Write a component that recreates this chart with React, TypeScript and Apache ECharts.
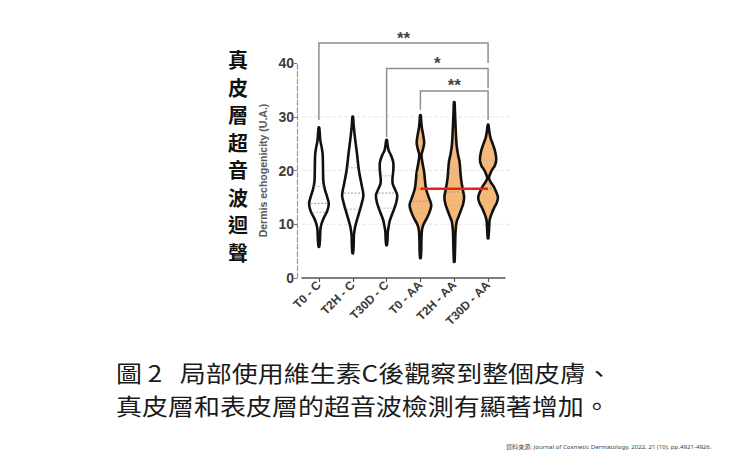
import React, { useEffect, useRef } from 'react';
import * as echarts from 'echarts';

const categories = ['T0 - C', 'T2H - C', 'T30D - C', 'T0 - AA', 'T2H - AA', 'T30D - AA'];
const filledGroup = [false, false, false, true, true, true];

// violin density profiles: [value, density]
const densityT0C = [[28, 0.3], [27, 0.8], [25.5, 1.5], [24.3, 2.8], [23, 3.8], [20, 4.2], [18, 4.5], [16.5, 6], [15, 8.5], [13.8, 10], [12.5, 8.5], [11, 4.5], [10, 2.5], [9, 1.5], [7, 1], [5.8, 0.3]];
const densityT2HC = [[30, 0.3], [28.5, 0.9], [26.2, 2.2], [23.3, 4.2], [20.1, 6.2], [17.5, 8.8], [15.4, 10.8], [13.8, 9], [12.1, 6.4], [10.5, 3.8], [9.5, 2.4], [8, 1.2], [6, 0.9], [4.6, 0.3]];
const densityT30DC = [[25.7, 0.3], [24.8, 1], [23.8, 2], [22.8, 4.5], [21.5, 6.8], [20, 6.8], [18.5, 6], [17.5, 6.2], [16.3, 9], [15.4, 10.8], [14.2, 10], [13, 8], [11.8, 5.5], [10.8, 3.5], [9.5, 2], [8.5, 1.2], [7, 0.9], [6.1, 0.3]];
const densityT0AA = [[30.3, 0.3], [29, 0.9], [27.9, 1.5], [26.4, 3], [25.1, 3.8], [23.9, 2.5], [22.9, 1.1], [21.5, 2], [19.7, 3.8], [16.7, 5.6], [15, 8.5], [13.6, 11], [12.4, 9.5], [11.3, 7], [9.9, 3], [8.8, 1.5], [7, 1], [5, 0.8], [3.7, 0.3]];
const densityT2HAA = [[32.7, 0.3], [31, 0.7], [28, 1.4], [24.7, 2.4], [23, 3.8], [21.6, 5.4], [18.6, 6.8], [16.5, 8.6], [15.1, 10], [13.9, 9.2], [13, 7.6], [11.6, 4.8], [10.4, 2.4], [8.6, 1.3], [6, 0.9], [3, 0.3]];
const densityT30DAA = [[28.5, 0.3], [27.3, 1.2], [26, 2.6], [24.8, 5], [23.5, 7.2], [22, 8.3], [20.9, 6.8], [20.1, 4], [19.2, 1.8], [18.6, 0.9], [17.9, 2.5], [16.9, 6], [15.1, 10], [14, 8.8], [13, 6], [11.8, 3.3], [10.8, 1.6], [9.5, 1.1], [7.4, 0.3]];
const profiles = [densityT0C, densityT2HC, densityT30DC, densityT0AA, densityT2HAA, densityT30DAA];
const DENSITY_MAX = 11;

const medians = [13.9, 15.8, 15.8, 14.3, 16.0, 16.6];
const quartile1 = [12.2, 12.8, 13.0, 12.0, 13.5, 14.2];
const quartile3 = [17.0, 20.5, 19.0, 19.5, 20.0, 21.8];

const gridValues = [10, 20, 30];

// significance brackets
const bracketFrom = [0, 2, 3];
const bracketTo = [5, 5, 5];
const bracketTop = [43.7, 39.0, 34.8];
const bracketLeftEnd = [29.4, 26.2, 31.3];
const bracketRightEnd = [40.0, 35.3, 29.4];
const bracketLabels = ['**', '*', '**'];

const redLineFrom = [3];
const redLineTo = [5];
const redLineValue = [16.6];

const sideTitle = '真皮層超音波迴聲';
const yAxisName = 'Dermis echogenicity (U.A.)';
const captionLine1 = '圖 2   局部使用維生素C後觀察到整個皮膚、';
const captionLine2 = '真皮層和表皮層的超音波檢測有顯著增加。';
const sourceText = '資料來源: Journal of Cosmetic Dermatology, 2022, 21 (10), pp.4921-4926.';

function widthAt(prof: number[][], v: number): number {
  for (let i = 0; i < prof.length - 1; i++) {
    const [v1, d1] = prof[i];
    const [v2, d2] = prof[i + 1];
    if (v <= v1 && v >= v2) {
      const t = (v1 - v) / (v1 - v2);
      return d1 + (d2 - d1) * t;
    }
  }
  return 0;
}

export default function App() {
  const ref = useRef<HTMLDivElement>(null);
  useEffect(() => {
    if (!ref.current) return;
    const chart = echarts.init(ref.current, undefined, { renderer: 'svg' });
    const font = '"Liberation Sans", Arial, sans-serif';
    const cjk = '"Noto Sans CJK TC", "Noto Sans CJK SC", sans-serif';
    const captionStyle = {
      font: `22.5px ${cjk}`,
      fill: '#1a1a1a',
      align: 'left',
      verticalAlign: 'middle',
    };
    chart.setOption({
      animation: false,
      backgroundColor: '#ffffff',
      grid: { left: 302, top: 63, width: 203, height: 215, containLabel: false },
      xAxis: {
        type: 'category',
        data: categories,
        axisLine: { show: true, lineStyle: { color: '#555', width: 1.5 } },
        axisTick: { show: true, alignWithLabel: true, length: 4, lineStyle: { color: '#555', width: 1.2 } },
        axisLabel: { rotate: 45, interval: 0, fontSize: 12, fontWeight: 'bold', color: '#3a3a3a', margin: 5, fontFamily: font },
        splitLine: { show: false },
      },
      yAxis: {
        type: 'value',
        min: 0,
        max: 40,
        interval: 10,
        offset: 5,
        name: yAxisName,
        nameLocation: 'middle',
        nameGap: 29,
        nameTextStyle: { fontSize: 10.5, fontWeight: 'bold', color: '#5a5a5a', fontFamily: font },
        axisLine: { show: true, lineStyle: { color: '#999', width: 1.2, type: 'dashed' } },
        axisTick: { show: true, length: 3, lineStyle: { color: '#777' } },
        axisLabel: { fontSize: 14, fontWeight: 'bold', color: '#3c3c3c', margin: 3, fontFamily: font },
        splitLine: { show: false },
      },
      series: [
        {
          type: 'custom',
          z: 1,
          silent: true,
          data: gridValues.map((v) => [0, v]),
          encode: { x: 0, y: 1 },
          renderItem: (params: any, api: any) => {
            const y = api.coord([0, api.value(1)])[1];
            const cs = params.coordSys;
            return {
              type: 'line',
              shape: { x1: cs.x, y1: y, x2: cs.x + cs.width + 6, y2: y },
              style: { stroke: '#e6e6e6', lineWidth: 1.2, lineDash: [4, 2] },
            };
          },
        },
        {
          type: 'custom',
          z: 3,
          silent: true,
          data: categories.map((_, i) => [i, 0]),
          encode: { x: 0, y: 1 },
          renderItem: (params: any, api: any) => {
            const idx = api.value(0);
            const prof = profiles[idx];
            const band = api.size([1, 0])[0];
            const scale = (band * 0.32) / DENSITY_MAX;
            const cx = api.coord([idx, 0])[0];
            const right = prof.map(([v, d]) => [cx + d * scale, api.coord([idx, v])[1]]);
            const left = prof.slice().reverse().map(([v, d]) => [cx - d * scale, api.coord([idx, v])[1]]);
            const pts = right.concat(left);
            const children: any[] = [
              {
                type: 'polygon',
                shape: { points: pts, smooth: 0.35 },
                style: { fill: filledGroup[idx] ? '#f5b878' : '#ffffff', stroke: '#111', lineWidth: 2.6 },
              },
            ];
            [quartile1[idx], medians[idx], quartile3[idx]].forEach((q, k) => {
              const w = widthAt(prof, q) * scale * 0.85;
              const y = api.coord([idx, q])[1];
              children.push({
                type: 'line',
                shape: { x1: cx - w, y1: y, x2: cx + w, y2: y },
                style: { stroke: k === 1 ? '#9a9a9a' : '#b8b8b8', lineWidth: 1, lineDash: [2, 1.5] },
              });
            });
            return { type: 'group', children };
          },
        },
        {
          type: 'custom',
          z: 4,
          silent: true,
          data: redLineFrom.map((f, i) => [f, redLineTo[i], redLineValue[i]]),
          encode: { x: [0, 1], y: 2 },
          renderItem: (params: any, api: any) => {
            const p1 = api.coord([api.value(0), api.value(2)]);
            const p2 = api.coord([api.value(1), api.value(2)]);
            return {
              type: 'line',
              shape: { x1: p1[0], y1: p1[1], x2: p2[0], y2: p2[1] },
              style: { stroke: '#e8221b', lineWidth: 2.6 },
            };
          },
        },
        {
          type: 'custom',
          z: 4,
          silent: true,
          data: bracketFrom.map((f, i) => [f, bracketTo[i], bracketTop[i], bracketLeftEnd[i], bracketRightEnd[i]]),
          encode: { x: [0, 1], y: [2, 3, 4] },
          renderItem: (params: any, api: any) => {
            const i = params.dataIndex;
            const a = api.value(0);
            const b = api.value(1);
            const top = api.value(2);
            const pA = api.coord([a, api.value(3)]);
            const pAT = api.coord([a, top]);
            const pBT = api.coord([b, top]);
            const pB = api.coord([b, api.value(4)]);
            return {
              type: 'group',
              children: [
                {
                  type: 'polyline',
                  shape: { points: [pA, pAT, pBT, pB] },
                  style: { stroke: '#8f8f8f', lineWidth: 1.5, fill: 'none' },
                },
                {
                  type: 'text',
                  x: (pAT[0] + pBT[0]) / 2,
                  y: pAT[1] - 5,
                  style: {
                    text: bracketLabels[i],
                    fill: '#444',
                    font: `bold 17px ${font}`,
                    align: 'center',
                    verticalAlign: 'middle',
                  },
                },
              ],
            };
          },
        },
      ],
      graphic: [
        {
          type: 'text',
          x: 238,
          y: 46,
          style: {
            text: sideTitle.split('').join('\n'),
            font: `bold 20px ${cjk}`,
            lineHeight: 27.5,
            fill: '#111',
            align: 'center',
            verticalAlign: 'top',
          },
        },
        {
          type: 'text',
          x: 116,
          y: 372,
          scaleX: 1.156,
          style: { ...captionStyle, text: captionLine1 },
        },
        {
          type: 'text',
          x: 116,
          y: 405,
          scaleX: 1.156,
          style: { ...captionStyle, text: captionLine2 },
        },
        {
          type: 'text',
          x: 506,
          y: 446,
          style: { text: sourceText, font: `6.1px "Noto Sans", ${cjk}`, fill: '#444', align: 'left', verticalAlign: 'middle' },
        },
      ],
    });
    return () => chart.dispose();
  }, []);
  return <div ref={ref} style={{ position: 'fixed', left: 0, top: 0, width: 740, height: 463 }} />;
}
